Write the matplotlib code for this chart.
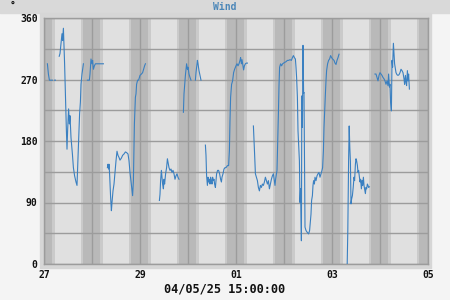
import numpy as np
import matplotlib
matplotlib.use("Agg")
import matplotlib.pyplot as plt
from matplotlib.patches import Rectangle

# wind direction, hours since 27 00:00, None = no direction reported (calm)
hours = [
    1.7, 2.2, 2.7, 4.2, None,
    5.3, 5.7, None,
    7.6, 8.0, 8.5, 9.0, 9.3, 9.7, 10.0, 10.3, 10.7, 11.2, 11.5, 11.8, 12.3, 12.7, 13.0, 13.5,
    14.2, 14.7, 15.3, 16.0, 16.5, 16.8, 17.3, 17.8, 18.2, 18.5, 19.0, 19.7, None,
    21.7, 22.7, 23.0, 23.5, 24.0, 24.3, 24.7, 25.2, 25.7, 29.7, None,
    31.7, 32.0, 32.3, 32.5, 32.8, 33.3, 33.7, 34.0, 34.5, 35.0, 35.5, 36.0, 36.5, 37.0, 37.5,
    38.0, 38.7, 39.3, 40.0, 40.7, 41.3, 42.0, 42.5, 43.0, 43.7, 44.3, 44.7, 45.2, 45.7, 46.0,
    46.3, 46.8, 47.3, 48.0, 48.7, 49.3, 49.8, 50.3, 50.7, None,
    57.7, 58.0, 58.3, 58.7, 59.0, 59.3, 59.7, 60.0, 60.3, 60.8, 61.3, 61.7, 62.0, 62.5, 63.0,
    63.5, 64.0, 64.5, 65.0, 65.5, 66.0, 66.5, 67.0, 67.5, None,
    69.7, 70.0, 70.3, 70.7, 71.0, 71.3, 71.7, 72.0, 72.5, 73.0, 73.5, None,
    75.7, 76.0, 76.3, 76.7, 77.0, 77.5, 78.0, 78.5, None,
    80.7, 81.0, 81.3, 81.7, 82.0, 82.3, 82.7, 83.0, 83.3, 83.7, 84.0, 84.3, 84.7, 85.0, 85.3,
    85.7, 86.0, 86.3, 86.8, 87.3, 87.8, 88.3, 88.7, 89.0, 89.5, 90.0, 90.5, 91.0, 91.7, 92.3,
    92.7, 93.0, 93.3, 93.8, 94.3, 94.8, 95.3, 96.0, 96.5, 97.0, 97.5, 98.0, 98.3, 98.7, 99.0,
    99.5, 99.8, 100.2, 100.7, 101.2, 101.7, None,
    104.7, 105.0, 105.3, 105.7, 106.2, 106.7, 107.2, 107.7, 108.2, 108.7, 109.2, 109.7, 110.2,
    110.7, 111.2, 111.7, 112.2, 112.7, 113.2, 113.7, 114.2, 114.7, 115.2, 115.5, 115.8, 116.2,
    116.5, 116.8, 117.2, 117.5, 117.8, 118.3, 118.8, 119.3, 119.8, 120.3, 121.0, 121.7, 122.3,
    123.0, 123.7, 124.2, 124.7, 125.2, 125.7, 126.0, 126.3, 126.7, 127.0, 127.3, 127.7, 128.0,
    128.3, 128.7, 128.9, 129.2, 129.5, 129.8, 130.0, 130.5, 131.0, 131.7, 132.3, 132.8, 133.2,
    133.5, 133.8, 134.2, 134.5, 134.8, 135.2, 135.5, 136.0, 136.5, 137.0, 137.5, 138.0, 138.5,
    139.0, 139.3, 139.7, 140.0, 140.3, 140.7, 141.0, 141.3, 141.8, 142.3, 142.8, 143.3, 143.8,
    144.3, 145.0, 145.5, 146.0, 146.5, 147.0, 147.5, None,
    151.6, 151.9, 152.3, 152.6, 152.9, 153.2, 153.5, 153.8, 154.2, 154.6, 155.0, 155.3, 155.7,
    156.0, 156.3, 156.7, 157.0, 157.3, 157.7, 158.0, 158.3, 158.7, 159.0, 159.3, 159.7, 160.0,
    160.3, 160.7, 161.0, 161.3, 161.7, 162.0, 162.3, 162.7, None,
    165.5, 166.0, 166.5, 167.0, 167.5, 168.0, 168.5, 169.0, 169.5, 170.0, 170.5, 171.0, 171.5,
    172.0, 172.3, 172.7, 173.0, 173.3, 173.7, 173.8, 174.0, 174.3, 174.7, 175.0, 175.3, 175.7,
    176.0, 176.5, 177.0, 177.5, 178.0, 178.5, 179.0, 179.5, 180.0, 180.3, 180.7, 181.0, 181.3,
    181.7, 182.0, 182.3, 182.7,
]
wind_dir = [
    293, 278, 269, 269, None,
    269, 269, None,
    304, 308, 322, 337, 327, 345, 320, 293, 249, 195, 168, 195, 227, 205, 217, 185,
    161, 141, 129, 120, 115, 141, 180, 220, 237, 263, 278, 293, None,
    269, 269, 278, 300, 293, 298, 285, 290, 293, 293, None,
    141, 146, 139, 146, 132, 98, 78, 90, 107, 117, 134, 151, 165, 159, 156,
    152, 155, 159, 161, 164, 163, 161, 151, 134, 115, 100, 122, 205, 244, 249,
    263, 269, 269, 276, 278, 280, 285, 290, 293, None,
    93, 102, 122, 137, 127, 117, 110, 124, 117, 132, 141, 154, 149, 141, 137,
    139, 134, 137, 132, 124, 129, 132, 127, 124, None,
    222, 249, 261, 276, 285, 293, 285, 288, 278, 273, 269, None,
    269, 280, 288, 298, 293, 283, 276, 269, None,
    174, 159, 129, 115, 127, 120, 124, 117, 127, 122, 117, 127, 122, 124, 117,
    112, 122, 132, 137, 137, 132, 124, 120, 127, 132, 139, 141, 141, 144, 144,
    166, 210, 244, 263, 268, 280, 285, 290, 293, 290, 293, 298, 302, 293, 299,
    290, 284, 290, 293, 294, 294, None,
    202, 183, 161, 132, 127, 122, 112, 107, 115, 112, 117, 115, 120,
    127, 122, 117, 122, 110, 117, 124, 129, 132, 122, 115, 124, 132,
    137, 171, 220, 261, 288, 293, 290, 293, 294, 295, 296, 298, 298,
    299, 298, 302, 305, 302, 300, 288, 273, 244, 195, 176, 151, 90,
    110, 34, 246, 200, 320, 250, 251, 54, 49, 46, 44, 49, 63,
    73, 93, 100, 115, 122, 117, 127, 122, 129, 132, 134, 127, 132,
    137, 141, 166, 200, 222, 249, 268, 283, 293, 298, 300, 305, 302,
    300, 298, 294, 292, 298, 302, 307, None,
    0, 48, 151, 202, 171, 150, 88, 95, 100, 112, 127, 122, 146,
    154, 151, 144, 134, 137, 127, 120, 124, 110, 122, 115, 127, 115,
    110, 103, 112, 110, 117, 115, 112, 113, None,
    278, 278, 273, 268, 276, 280, 278, 276, 273, 271, 268, 263, 268,
    261, 278, 259, 263, 237, 224, 249, 298, 288, 323, 307, 293, 285,
    280, 277, 276, 277, 280, 285, 283, 280, 271, 263, 276, 266, 261,
    283, 268, 278, 256,
]

x_tick_hours = [0, 48, 96, 144, 192]
x_tick_labels = ["27", "29", "01", "03", "05"]
y_ticks = [0, 90, 180, 270, 360]
n_days = 8
dawn, sunrise, sunset, dusk = 4.1, 5.3, 18.3, 19.5  # local hours
title = "Wind"
unit_label = "°"
timestamp = "04/05/25 15:00:00"

W, H = 450, 300
fig = plt.figure(figsize=(W / 100, H / 100), dpi=100, facecolor="#f4f4f4")

# title band and plot frame
fig.patches.append(Rectangle((0, 1 - 12.5 / H), 1, 12.5 / H, transform=fig.transFigure,
                             color="#d9d9d9", zorder=-5))
fig.patches.append(Rectangle((40 / W, 1 - 268 / H), 391 / W, 255 / H, transform=fig.transFigure,
                             color="#d6d6d6", zorder=-5))

ax = fig.add_axes([44 / W, 1 - 264 / H, 384 / W, 246 / H])
ax.set_zorder(2)
ax.set_facecolor("#b9b9b9")

# daylight shading: night stays as the facecolor
for d in range(-1, n_days + 1):
    base = d * 24
    ax.axvspan(base + dawn, base + sunrise, color="#cacaca", lw=0, zorder=0)
    ax.axvspan(base + sunrise, base + sunset, color="#e0e0e0", lw=0, zorder=0)
    ax.axvspan(base + sunset, base + dusk, color="#cacaca", lw=0, zorder=0)

t = np.array([np.nan if h is None else h for h in hours], dtype=float)
v = np.array([np.nan if d is None else d for d in wind_dir], dtype=float)
ax.plot(t, v, color="#3a80c1", lw=0.8, zorder=3)

ax.set_xlim(0, n_days * 24)
ax.set_ylim(0, 360)
ax.set_xticks(x_tick_hours)
ax.set_xticklabels(x_tick_labels)
ax.set_xticks(np.arange(24, n_days * 24, 48), minor=True)
ax.set_yticks(y_ticks)
ax.set_yticks(np.arange(45, 360, 90), minor=True)
ax.grid(True, which="both", color="#9c9c9c", lw=1.0, zorder=1)
ax.set_axisbelow(True)
ax.tick_params(which="both", length=0)
ax.tick_params(axis="y", pad=4.5)
ax.tick_params(axis="x", pad=4.5)
for lab in ax.get_xticklabels() + ax.get_yticklabels():
    lab.set_fontfamily("DejaVu Sans Mono")
    lab.set_fontweight("bold")
    lab.set_fontsize(7)
    lab.set_color("#111111")
for s in ax.spines.values():
    s.set_color("#9c9c9c")
    s.set_linewidth(1.0)

fig.text(225 / W, 1 - 6.5 / H, title, ha="center", va="center", color="#4a86b8",
         family="DejaVu Sans Mono", fontweight="bold", fontsize=7)
fig.text(13 / W, 1 - 5 / H, unit_label, ha="center", va="center", color="#111111",
         family="DejaVu Sans Mono", fontweight="bold", fontsize=7)
fig.text(225 / W, 1 - 288.5 / H, timestamp, ha="center", va="center", color="#111111",
         family="DejaVu Sans Mono", fontweight="bold", fontsize=8.6)

fig.savefig("out.png", dpi=100, facecolor=fig.get_facecolor())
